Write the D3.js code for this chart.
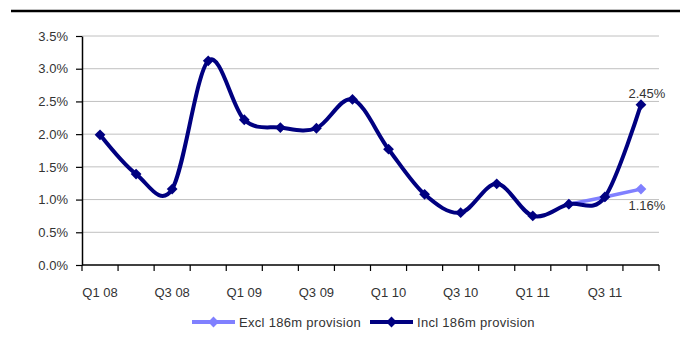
<!DOCTYPE html>
<html>
<head>
<meta charset="utf-8">
<script src="https://cdn.jsdelivr.net/npm/d3@7"></script>
<style>
  html, body { margin: 0; padding: 0; background: #fff; }
  svg { display: block; }
  text { font-family: "Liberation Sans", Arial, sans-serif; fill: #333; }
</style>
</head>
<body>
<svg id="chart" width="680" height="350"></svg>
<script>
// Quarterly provision ratio (%), Q1 2008 to Q4 2011
const quarters = ["Q1 08","Q2 08","Q3 08","Q4 08","Q1 09","Q2 09","Q3 09","Q4 09",
                  "Q1 10","Q2 10","Q3 10","Q4 10","Q1 11","Q2 11","Q3 11","Q4 11"];
const inclValues = [1.99, 1.39, 1.16, 3.12, 2.22, 2.10, 2.09, 2.53,
                    1.77, 1.08, 0.80, 1.24, 0.75, 0.93, 1.04, 2.45];
const exclQuarters = ["Q2 11","Q3 11","Q4 11"];
const exclValues = [0.93, 1.04, 1.16];
const yTicks = [0, 0.5, 1.0, 1.5, 2.0, 2.5, 3.0, 3.5];
const tickLabelQuarters = ["Q1 08","Q3 08","Q1 09","Q3 09","Q1 10","Q3 10","Q1 11","Q3 11"];
const seriesNames = ["Excl 186m provision", "Incl 186m provision"];
const seriesColors = ["#8080ff", "#000080"];

const svg = d3.select("#chart");
const plotLeft = 82, plotRight = 659, plotTop = 36, plotBottom = 265;
const fontSize = 13;

// Header rule
svg.append("line").attr("x1", 11).attr("x2", 680).attr("y1", 11).attr("y2", 11)
  .attr("stroke", "#000").attr("stroke-width", 2.5);

const x = d3.scaleBand().domain(quarters).range([plotLeft, plotRight]);
const y = d3.scaleLinear().domain([0, 3.5]).range([plotBottom, plotTop]);
const cx = q => x(q) + x.bandwidth() / 2;

// Gridlines
svg.append("g").selectAll("line").data(yTicks.slice(1)).join("line")
  .attr("x1", plotLeft).attr("x2", plotRight)
  .attr("y1", d => y(d)).attr("y2", d => y(d))
  .attr("stroke", "#c0c0c0").attr("stroke-width", 1);

// Y axis
const yAxis = svg.append("g").attr("transform", `translate(${plotLeft},0)`)
  .call(d3.axisLeft(y).tickValues(yTicks).tickFormat(d => d.toFixed(1) + "%").tickSize(6).tickSizeOuter(0));
yAxis.select(".domain").attr("stroke", "#000").attr("stroke-width", 1.5);
yAxis.selectAll(".tick line").attr("stroke", "#000").attr("stroke-width", 1.2);
yAxis.selectAll(".tick text").attr("x", -14).attr("font-size", fontSize).attr("fill", "#333")
  .attr("font-family", "'Liberation Sans', Arial, sans-serif");

// X axis: ticks on category boundaries, labels on every other category
const xg = svg.append("g").attr("transform", `translate(0,${plotBottom})`);
xg.append("line").attr("x1", plotLeft).attr("x2", plotRight).attr("y1", 0).attr("y2", 0)
  .attr("stroke", "#000").attr("stroke-width", 1.5);
const boundaries = quarters.map(q => x(q)).concat([plotRight]);
xg.selectAll("line.tk").data(boundaries).join("line").attr("class", "tk")
  .attr("x1", d => d).attr("x2", d => d).attr("y1", 0).attr("y2", 6)
  .attr("stroke", "#000").attr("stroke-width", 1.2);
xg.selectAll("text").data(tickLabelQuarters).join("text")
  .attr("x", d => cx(d)).attr("y", 32)
  .attr("text-anchor", "middle").attr("font-size", fontSize).text(d => d);

const line = d3.line().curve(d3.curveCatmullRom.alpha(0));
// Diamond marker: a square turned 45 degrees
const square = d3.symbol().type(d3.symbolSquare).size(58);
const marker = (sel, color) => sel
  .attr("transform", d => `translate(${d[0]},${d[1]}) rotate(45)`)
  .attr("d", square).attr("fill", color);

// Excl series (drawn beneath)
const exclPts = exclQuarters.map((q, i) => [cx(q), y(exclValues[i])]);
svg.append("path").attr("d", line(exclPts)).attr("fill", "none")
  .attr("stroke", seriesColors[0]).attr("stroke-width", 3.5);
svg.append("g").selectAll("path").data(exclPts).join("path").call(marker, seriesColors[0]);

// Incl series
const inclPts = quarters.map((q, i) => [cx(q), y(inclValues[i])]);
svg.append("path").attr("d", line(inclPts)).attr("fill", "none")
  .attr("stroke", seriesColors[1]).attr("stroke-width", 4).attr("stroke-linejoin", "round");
svg.append("g").selectAll("path").data(inclPts).join("path").call(marker, seriesColors[1]);

// Value labels at last point
const lastQ = quarters[quarters.length - 1];
svg.append("text").attr("x", cx(lastQ) + 6).attr("y", y(inclValues[15]) - 6.5)
  .attr("text-anchor", "middle").attr("font-size", fontSize).attr("fill", "#222")
  .text(inclValues[15].toFixed(2) + "%");
svg.append("text").attr("x", cx(lastQ) + 6).attr("y", y(exclValues[2]) + 21)
  .attr("text-anchor", "middle").attr("font-size", fontSize).attr("fill", "#222")
  .text(exclValues[2].toFixed(2) + "%");

// Legend
const legend = svg.append("g").attr("transform", "translate(0,322)");
const legendX = [192, 370];
seriesNames.forEach((name, i) => {
  const g = legend.append("g").attr("transform", `translate(${legendX[i]},0)`);
  g.append("line").attr("x1", 0).attr("x2", 43).attr("y1", 0).attr("y2", 0)
    .attr("stroke", seriesColors[i]).attr("stroke-width", 4);
  g.append("path").datum([21.5, 0]).call(marker, seriesColors[i]);
  g.append("text").attr("x", 47).attr("y", 4.5).attr("font-size", fontSize)
    .attr("letter-spacing", 0.3).text(name);
});
</script>
</body>
</html>
